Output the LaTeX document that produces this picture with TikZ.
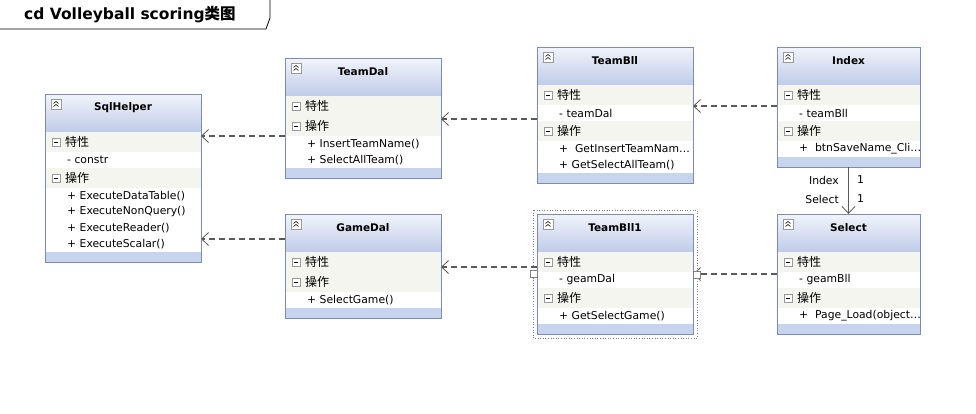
\documentclass[tikz,border=0pt]{standalone}
\usepackage{fontspec}
\setmainfont{DejaVu Sans}
\newfontfamily\cjk{Noto Sans CJK SC}
\usetikzlibrary{positioning,arrows.meta}
\definecolor{hdtop}{HTML}{F2F4FB}
\definecolor{hdbot}{HTML}{BFCBE9}
\definecolor{bandblue}{HTML}{C8D4EE}
\definecolor{clsline}{HTML}{7B8DB0}
\definecolor{secfill}{HTML}{F5F5EF}
\definecolor{conn}{HTML}{5A5A5A}

% name, x, y, width, title, #attributes, attributes, #operations, operations
\newcommand{\umlclass}[9]{%
  \pgfmathsetmacro{\bh}{38+20+16*#6+20+16*#8+10}
  \node[clsbox, minimum width=#4pt, minimum height=\bh pt] (#1) at (#2,#3) {};
  \shade[top color=hdtop, bottom color=hdbot] (#2,#3) rectangle ++(#4,38);
  \fill[secfill] (#2,#3+38) rectangle ++(#4,20);
  \fill[secfill] (#2,#3+58+16*#6) rectangle ++(#4,20);
  \fill[bandblue] (#2,#3+\bh-10) rectangle ++(#4,10);
  \draw[clsline] (#1.north west) rectangle (#1.south east);
  \node[clstitle] (#1-t) at (#2+#4/2,#3+14) {#5};
  \node[iconbox, minimum size=10pt] (#1-c) at (#2+11,#3+10) {};
  \draw[line width=0.6pt] ([xshift=-2.5pt,yshift=-2.5pt]#1-c.center) -- ++(2.5pt,2pt) -- ++(2.5pt,-2pt);
  \draw[line width=0.6pt] ([xshift=-2.5pt,yshift=0.5pt]#1-c.center) -- ++(2.5pt,2pt) -- ++(2.5pt,-2pt);
  \node[iconbox] (#1-m1) at (#2+11,#3+48) {};
  \draw[line width=0.6pt] ([xshift=-2pt]#1-m1.center) -- ([xshift=2pt]#1-m1.center);
  \node[sect] (#1-s1) at (#2+20,#3+48) {特性};
  \ifnum#6>0
    \foreach \m [count=\i] in {#7} \node[mem] (#1-a\i) at (#2+22,#3+50+16*\i) {\m};
  \fi
  \node[iconbox] (#1-m2) at (#2+11,#3+68+16*#6) {};
  \draw[line width=0.6pt] ([xshift=-2pt]#1-m2.center) -- ([xshift=2pt]#1-m2.center);
  \node[sect] (#1-s2) at (#2+20,#3+68+16*#6) {操作};
  \foreach \m [count=\i] in {#9} \node[mem] (#1-o\i) at (#2+22,#3+70+16*#6+16*\i) {\m};
}

\begin{document}
\begin{tikzpicture}[x=1pt, y=-1pt,
    clsbox/.style={draw=clsline, fill=white, anchor=north west, inner sep=0pt, outer sep=0pt},
    clstitle/.style={font=\bfseries\fontsize{10.5}{12}\selectfont},
    iconbox/.style={draw=gray!80, fill=white, minimum size=8pt, inner sep=0pt, line width=0.5pt},
    sect/.style={anchor=west, inner sep=0pt, font=\cjk\fontsize{12}{13}\selectfont},
    mem/.style={anchor=west, inner sep=0pt, font=\fontsize{10.8}{12}\selectfont},
    lbl/.style={inner sep=0pt, font=\fontsize{10.8}{12}\selectfont},
    dep/.style={draw=conn, line width=1.1pt, dash pattern=on 6pt off 4pt,
      -{Straight Barb[length=7pt, width=13pt, line width=0.8pt]}},
    assoc/.style={draw=conn, line width=0.9pt, -{Straight Barb[length=7pt, width=13pt, line width=0.8pt]}},
    handle/.style={draw=gray, fill=white, minimum size=7pt, inner sep=0pt, line width=0.6pt}]
  \fill[white] (0,0) rectangle (976,413);
  \useasboundingbox (0,0) rectangle (976,413);

  % title tab
  \draw[line width=0.8pt] (0,29) -- (266,29) -- (270,18) -- (270,0);
  \node[anchor=west, inner sep=0pt, font=\bfseries\fontsize{15.5}{18}\selectfont] (title) at (24,15)
    {cd Volleyball scoring{\cjk 类图}};

  % classes
  \umlclass{sql}{45}{94}{156}{SqlHelper}{1}{- constr}{4}{+ ExecuteDataTable(),+ ExecuteNonQuery(),+ ExecuteReader(),+ ExecuteScalar()}
  \umlclass{tdal}{285}{58}{156}{TeamDal}{0}{}{2}{+ InsertTeamName(),+ SelectAllTeam()}
  \umlclass{tbll}{537}{47}{156}{TeamBll}{1}{- teamDal}{2}{+\ \ GetInsertTeamNam\ldots,+ GetSelectAllTeam()}
  \umlclass{idx}{777}{47}{143}{Index}{1}{- teamBll}{1}{+\ \ btnSaveName\_Cli\ldots}
  \umlclass{gdal}{285}{214}{156}{GameDal}{0}{}{1}{+ SelectGame()}
  \umlclass{tbll1}{537}{214}{156}{TeamBll1}{1}{- geamDal}{1}{+ GetSelectGame()}
  \umlclass{sel}{777}{214}{143}{Select}{1}{- geamBll}{1}{+\ \ Page\_Load(object\ldots}

  % selection frame
  \draw[gray, dotted, line width=0.6pt] ([xshift=-4pt,yshift=4pt]tbll1.north west) rectangle ([xshift=4pt,yshift=-4pt]tbll1.south east);

  % dependencies
  \draw[dep] (tdal.west |- 0,136) -- (sql.east |- 0,136);
  \draw[dep] (gdal.west |- 0,239) -- (sql.east |- 0,239);
  \draw[dep] (tbll.west |- 0,119) -- (tdal.east |- 0,119);
  \draw[dep] (idx.west |- 0,106) -- (tbll.east |- 0,106);
  \draw[dep] (tbll1.west |- 0,267) -- (gdal.east |- 0,267);
  \draw[dep] (sel.west |- 0,274) -- (tbll1.east |- 0,274);
  \node[handle] (hl) at (533.5,273.5) {};
  \node[handle] (hr) at (697,275) {};

  % association
  \draw[assoc] (idx.south) -- (sel.north);
  \node[lbl, anchor=east] (l1) at (839,180) {Index};
  \node[lbl, anchor=west] (m1) at (857,180) {1};
  \node[lbl, anchor=east] (l2) at (839,199) {Select};
  \node[lbl, anchor=west] (m2) at (857,199) {1};
\end{tikzpicture}
\end{document}
